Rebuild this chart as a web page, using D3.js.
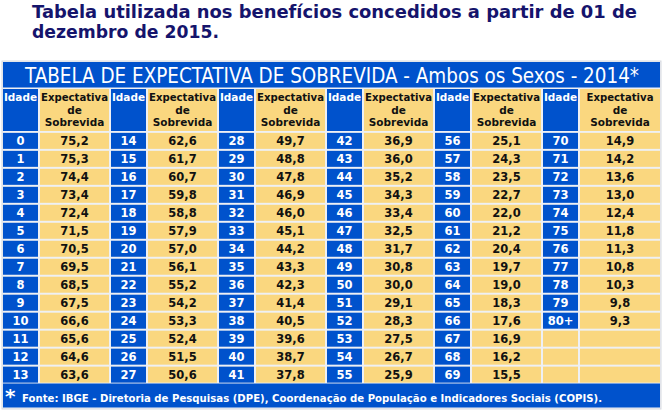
<!DOCTYPE html>
<html><head><meta charset="utf-8">
<script src="https://cdn.jsdelivr.net/npm/d3@7"></script>
<style>body{margin:0;background:#fff}svg{display:block}</style>
</head><body>
<script>
const heading = ["Tabela utilizada nos benefícios concedidos a partir de 01 de", "dezembro de 2015."];
const tableTitle = "TABELA DE EXPECTATIVA DE SOBREVIDA - Ambos os Sexos - 2014*";
const colHeaderAge = "Idade";
const colHeaderValue = ["Expectativa", "de", "Sobrevida"];
const footnote = "Fonte: IBGE - Diretoria de Pesquisas (DPE), Coordenação de População e Indicadores Sociais (COPIS).";
const ages = ["0","1","2","3","4","5","6","7","8","9","10","11","12","13","14","15","16","17","18","19","20","21","22","23","24","25","26","27","28","29","30","31","32","33","34","35","36","37","38","39","40","41","42","43","44","45","46","47","48","49","50","51","52","53","54","55","56","57","58","59","60","61","62","63","64","65","66","67","68","69","70","71","72","73","74","75","76","77","78","79","80+"];
const values = ["75,2","75,3","74,4","73,4","72,4","71,5","70,5","69,5","68,5","67,5","66,6","65,6","64,6","63,6",
"62,6","61,7","60,7","59,8","58,8","57,9","57,0","56,1","55,2","54,2","53,3","52,4","51,5","50,6",
"49,7","48,8","47,8","46,9","46,0","45,1","44,2","43,3","42,3","41,4","40,5","39,6","38,7","37,8",
"36,9","36,0","35,2","34,3","33,4","32,5","31,7","30,8","30,0","29,1","28,3","27,5","26,7","25,9",
"25,1","24,3","23,5","22,7","22,0","21,2","20,4","19,7","19,0","18,3","17,6","16,9","16,2","15,5",
"14,9","14,2","13,6","13,0","12,4","11,8","11,3","10,8","10,3","9,8","9,3"];

const W = 663, H = 411;
const BLUE = "#0052CC", YELLOW = "#FAD77F", NAVY = "#15146C";
const FONT = "'DejaVu Sans', Verdana, sans-serif";
const ROWS = 14, PAIRS = 6;

const svg = d3.select("body").append("svg").attr("width", W).attr("height", H);

function fit(sel, w, stretch) {
  const n = sel.node(); const l = n.getComputedTextLength();
  if (l > w || stretch) sel.attr("textLength", w).attr("lengthAdjust", "spacingAndGlyphs");
}

// heading
heading.forEach((t, i) => {
  const s = svg.append("text").attr("x", 32).attr("y", 18 + i * 20)
    .attr("font-family", FONT).attr("font-weight", "bold").attr("font-size", 17)
    .attr("fill", NAVY).text(t);
  if (i === 0) fit(s, 605, true);
  else fit(s, 187, true);
});

// table frame
const tx0 = 2, tx1 = 661;
svg.append("rect").attr("x", tx0).attr("y", 61).attr("width", tx1 - tx0).attr("height", 348)
  .attr("fill", "#eef0f4").attr("stroke", "#d6d9e0");

// title band
svg.append("rect").attr("x", 3).attr("y", 62).attr("width", 657).attr("height", 25.5).attr("fill", BLUE);
const tt = svg.append("text").attr("x", 332).attr("y", 82.5).attr("text-anchor", "middle")
  .attr("font-family", "'DejaVu Sans Condensed', 'DejaVu Sans', sans-serif").attr("font-size", 20.5)
  .attr("fill", "#fff").text(tableTitle);
fit(tt, 614);

// columns
const pairX = d3.scaleBand().domain(d3.range(PAIRS)).range([3, 3 + 108 * PAIRS]).paddingInner(0);
const ageW = 35, gap = 2;
const valW = p => p === PAIRS - 1 ? 660 - (pairX(p) + ageW + gap) : 69;
const ageX = p => pairX(p);
const valX = p => pairX(p) + ageW + gap;

// header row
const hy = 89, hh = 42;
for (let p = 0; p < PAIRS; p++) {
  svg.append("rect").attr("x", ageX(p)).attr("y", hy).attr("width", ageW).attr("height", hh).attr("fill", BLUE);
  svg.append("rect").attr("x", valX(p)).attr("y", hy).attr("width", valW(p)).attr("height", hh).attr("fill", YELLOW);
  const a = svg.append("text").attr("x", ageX(p) + ageW / 2).attr("y", hy + 12).attr("text-anchor", "middle")
    .attr("font-family", FONT).attr("font-weight", "bold").attr("font-size", 10.5).attr("fill", "#fff").text(colHeaderAge);
  fit(a, 34);
  colHeaderValue.forEach((t, i) => {
    const s = svg.append("text").attr("x", valX(p) + valW(p) / 2).attr("y", hy + 12 + i * 12.5)
      .attr("text-anchor", "middle").attr("font-family", FONT).attr("font-weight", "bold")
      .attr("font-size", 10.5).attr("fill", "#111").text(t);
    fit(s, 67);
  });
}

// data rows
const rowY = d3.scaleBand().domain(d3.range(ROWS)).range([132.5, 383]).paddingInner(0.11).paddingOuter(0.02);
const cells = d3.range(PAIRS * ROWS).map(k => ({ p: Math.floor(k / ROWS), r: k % ROWS, k }));

const g = svg.append("g");
cells.forEach(c => {
  const has = c.k < ages.length;
  const y = rowY(c.r), h = rowY.bandwidth();
  g.append("rect").attr("x", ageX(c.p)).attr("y", y).attr("width", ageW).attr("height", h)
    .attr("fill", has ? BLUE : YELLOW);
  g.append("rect").attr("x", valX(c.p)).attr("y", y).attr("width", valW(c.p)).attr("height", h)
    .attr("fill", YELLOW);
  if (has) {
    g.append("text").attr("x", ageX(c.p) + ageW / 2).attr("y", y + h / 2 + 4.3).attr("text-anchor", "middle")
      .attr("font-family", FONT).attr("font-weight", "bold").attr("font-size", 11.5).attr("fill", "#fff")
      .text(ages[c.k]);
    g.append("text").attr("x", valX(c.p) + valW(c.p) / 2).attr("y", y + h / 2 + 4.3).attr("text-anchor", "middle")
      .attr("font-family", FONT).attr("font-weight", "bold").attr("font-size", 11.5).attr("fill", "#111")
      .text(values[c.k]);
  }
});

// footer
svg.append("rect").attr("x", 3).attr("y", 383.5).attr("width", 657).attr("height", 24).attr("fill", BLUE);
svg.append("text").attr("x", 5).attr("y", 403).attr("font-family", FONT).attr("font-weight", "bold")
  .attr("font-size", 20).attr("fill", "#fff").text("*");
const ft = svg.append("text").attr("x", 22).attr("y", 402).attr("font-family", FONT).attr("font-weight", "bold")
  .attr("font-size", 10.5).attr("fill", "#fff").text(footnote);
fit(ft, 580);
</script>
</body></html>
